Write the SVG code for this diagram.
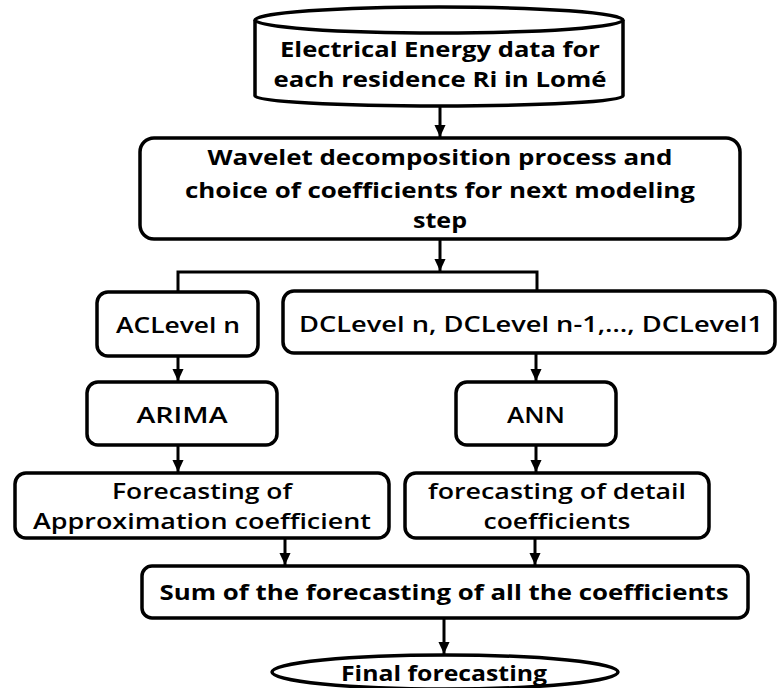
<svg xmlns="http://www.w3.org/2000/svg" width="777" height="688" viewBox="0 0 777 688">
<defs>
<marker id="arr" markerUnits="userSpaceOnUse" markerWidth="12" markerHeight="13" viewBox="0 0 13 12" refX="13" refY="6" orient="auto">
<path d="M0,0 L13,6 L0,12 Z" fill="#000"/>
</marker>
<style>
.box{fill:#fff;stroke:#000;stroke-width:3.5}
.t{font-family:"Open Sans","Noto Sans","Liberation Sans",sans-serif;font-size:21.5px;font-weight:700;fill:#000;text-anchor:middle}
.m{font-weight:600}
.c{fill:none;stroke:#000;stroke-width:3}
</style>
</defs>
<rect width="777" height="688" fill="#fff"/>
<g id="connectors">
<path class="c" d="M440,106 V137" marker-end="url(#arr)"/>
<path class="c" d="M440,239 V271" marker-end="url(#arr)"/>
<path class="c" d="M178,292 V272 H537 V291"/>
<path class="c" d="M178,356 V381" marker-end="url(#arr)"/>
<path class="c" d="M536,353 V381" marker-end="url(#arr)"/>
<path class="c" d="M178,445 V472" marker-end="url(#arr)"/>
<path class="c" d="M536,445 V472" marker-end="url(#arr)"/>
<path class="c" d="M285,538 V565" marker-end="url(#arr)"/>
<path class="c" d="M535,538 V565" marker-end="url(#arr)"/>
<path class="c" d="M444,618 V654" marker-end="url(#arr)"/>
</g>
<g id="data">
<path class="box" d="M255,20 V96 A184,10 0 0 0 623,96 V20"/>
<ellipse class="box" cx="439" cy="20" rx="184" ry="13"/>
<text class="t" x="440" y="57" textLength="320" lengthAdjust="spacingAndGlyphs">Electrical Energy data for</text>
<text class="t" x="440" y="87" textLength="333" lengthAdjust="spacingAndGlyphs">each residence Ri in Lomé</text>
</g>
<g id="wavelet">
<rect class="box" x="140" y="138" width="600" height="101" rx="14"/>
<text class="t" x="440" y="165" textLength="465" lengthAdjust="spacingAndGlyphs">Wavelet decomposition process and</text>
<text class="t" x="440" y="198" textLength="510" lengthAdjust="spacingAndGlyphs">choice of coefficients for next modeling</text>
<text class="t" x="440" y="228" textLength="54" lengthAdjust="spacingAndGlyphs">step</text>
</g>
<g id="aclevel">
<rect class="box" x="97" y="292" width="161" height="64" rx="11"/>
<text class="t m" x="178" y="333" textLength="124" lengthAdjust="spacingAndGlyphs">ACLevel n</text>
</g>
<g id="dclevel">
<rect class="box" x="283" y="291" width="492" height="62" rx="11"/>
<text class="t m" x="531" y="332" textLength="464" lengthAdjust="spacingAndGlyphs">DCLevel n, DCLevel n-1,…, DCLevel1</text>
</g>
<g id="arima">
<rect class="box" x="87" y="382" width="190" height="63" rx="11"/>
<text class="t m" x="182" y="423" textLength="91" lengthAdjust="spacingAndGlyphs">ARIMA</text>
</g>
<g id="ann">
<rect class="box" x="456" y="382" width="160" height="63" rx="11"/>
<text class="t m" x="536" y="423" textLength="58" lengthAdjust="spacingAndGlyphs">ANN</text>
</g>
<g id="approx">
<rect class="box" x="15" y="473" width="374" height="65" rx="11"/>
<text class="t m" x="202" y="499" textLength="180" lengthAdjust="spacingAndGlyphs">Forecasting of</text>
<text class="t m" x="202" y="529" textLength="338" lengthAdjust="spacingAndGlyphs">Approximation coefficient</text>
</g>
<g id="detail">
<rect class="box" x="405" y="473" width="304" height="65" rx="11"/>
<text class="t m" x="557" y="499" textLength="258" lengthAdjust="spacingAndGlyphs">forecasting of detail</text>
<text class="t m" x="557" y="529" textLength="147" lengthAdjust="spacingAndGlyphs">coefficients</text>
</g>
<g id="sum">
<rect class="box" x="142" y="566" width="606" height="52" rx="10"/>
<text class="t" x="444" y="600" textLength="569" lengthAdjust="spacingAndGlyphs">Sum of the forecasting of all the coefficients</text>
</g>
<g id="final">
<ellipse class="box" cx="445" cy="672" rx="173" ry="17"/>
<text class="t" x="444" y="681" font-size="20" textLength="206" lengthAdjust="spacingAndGlyphs">Final forecasting</text>
</g>
</svg>
